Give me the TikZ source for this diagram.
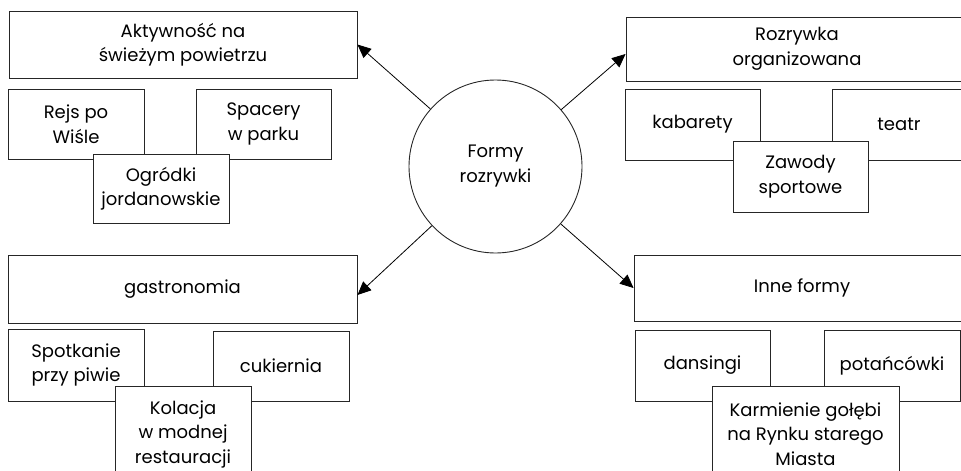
\documentclass[tikz,border=0pt]{standalone}
\usepackage{fontspec}
\setmainfont{Poppins}
\usetikzlibrary{arrows.meta}
\begin{document}
\begin{tikzpicture}[x=1pt,y=-1pt,
  box/.style={draw=black!85,line width=0.9pt,fill=white,inner sep=0pt,align=center,
    font=\fontsize{18}{24.5}\selectfont},
  hub/.style={draw=black!85,line width=0.9pt,circle,inner sep=0pt,minimum size=173pt,
    align=center,font=\fontsize{18}{25}\selectfont},
  arr/.style={line width=0.8pt,-{Triangle[length=13.5pt,width=12pt]}}]
\useasboundingbox (0,0) rectangle (961,471);
\clip (0,0) rectangle (961,471);
% hub
\node[hub] (hub) at (495.5,166.5) {Formy\\rozrywki};
% top left
\node[box,minimum width=348pt,minimum height=67pt] (akt) at (183,44.5) {Aktywność na\\świeżym powietrzu};
\node[box,minimum width=136pt,minimum height=70pt] (rejs) at (76,124) {Rejs po\\Wiśle};
\node[box,minimum width=135pt,minimum height=70pt] (spac) at (263.5,124) {Spacery\\w parku};
\node[box,minimum width=136pt,minimum height=69pt] (ogr) at (161,188.5) {Ogródki\\jordanowskie};
% top right
\node[box,minimum width=342pt,minimum height=64pt] (roz) at (797,49) {Rozrywka\\organizowana};
\node[box,minimum width=135pt,minimum height=71pt] (kab) at (692.5,124.5) {kabarety};
\node[box,minimum width=134pt,minimum height=71pt] (teatr) at (899,124.5) {teatr};
\node[box,minimum width=135pt,minimum height=71pt] (zaw) at (800.5,176.5) {Zawody\\sportowe};
% bottom left
\node[box,minimum width=349pt,minimum height=68pt] (gas) at (182.5,289) {gastronomia};
\node[box,minimum width=136pt,minimum height=72pt] (spot) at (76,365) {Spotkanie\\przy piwie};
\node[box,minimum width=136pt,minimum height=70pt] (cuk) at (281,366) {cukiernia};
\node[box,minimum width=136pt,minimum height=96pt] (kol) at (183,434) {Kolacja\\w modnej\\restauracji};
% bottom right
\node[box,minimum width=336pt,minimum height=66pt] (inne) at (802,288) {Inne formy};
\node[box,minimum width=135pt,minimum height=71pt] (dans) at (702.5,365.5) {dansingi};
\node[box,minimum width=136pt,minimum height=71pt] (pot) at (892,365.5) {potańcówki};
\node[box,minimum width=187pt,minimum height=96pt] (karm) at (805.5,434) {Karmienie gołębi\\na Rynku starego\\Miasta};
% arrows
\coordinate (rozin) at ([yshift=-5pt]roz.west);
\coordinate (gasin) at ([yshift=-6pt]gas.east);
\draw[arr] (hub) -- (akt.east);
\draw[arr] (hub) -- (rozin);
\draw[arr] (hub) -- (gasin);
\draw[arr] (hub) -- (inne.west);
\end{tikzpicture}
\end{document}
